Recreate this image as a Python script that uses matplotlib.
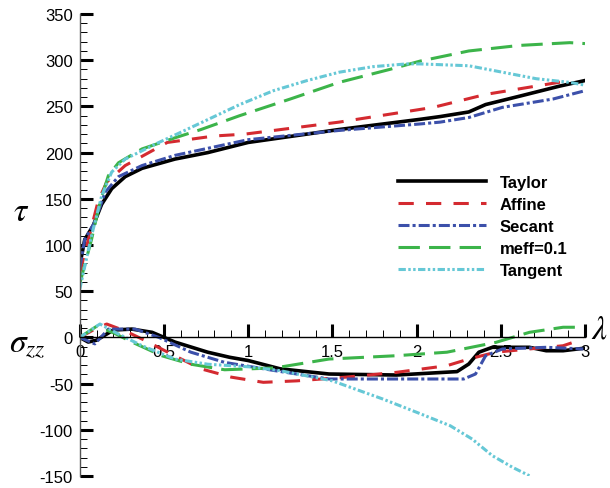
import matplotlib.pyplot as plt

plt.rcParams['font.family'] = ['Liberation Sans', 'DejaVu Sans']
plt.rcParams['axes.unicode_minus'] = False
plt.rcParams['mathtext.fontset'] = 'stix'

# --- tau curves (upper branch) ---
taylor_tau_x = [0, 0.03, 0.08, 0.13, 0.19, 0.27, 0.37, 0.565, 0.76, 1.0, 1.54, 2.02, 2.14, 2.31, 2.41, 2.61, 2.85, 3.0]
taylor_tau_y = [78, 106, 121, 144, 161, 174, 183, 193, 200, 211, 225, 236, 239, 244, 252, 261, 272, 278]

affine_tau_x = [0, 0.05, 0.11, 0.16, 0.27, 0.52, 0.8, 0.98, 1.54, 2.1, 2.41, 2.61, 2.91]
affine_tau_y = [70, 105, 148, 168, 186, 211, 218, 220, 233, 249, 263, 269, 278]

secant_tau_x = [0, 0.03, 0.09, 0.15, 0.23, 0.37, 0.565, 1.0, 1.54, 2.02, 2.14, 2.31, 2.51, 2.81, 3.0]
secant_tau_y = [75, 106, 125, 157, 174, 186, 197, 214, 224, 231, 233, 238, 249, 258, 267]

meff_tau_x = [0, 0.07, 0.12, 0.17, 0.23, 0.37, 0.565, 0.72, 0.95, 1.25, 1.54, 1.84, 2.02, 2.31, 2.61, 2.91, 3.0]
meff_tau_y = [58, 106, 146, 175, 189, 204, 216, 225, 240, 258, 276, 290, 299, 310, 316, 319, 318]

tangent_tau_x = [0, 0.07, 0.13, 0.19, 0.27, 0.47, 0.6, 0.95, 1.15, 1.35, 1.54, 1.74, 1.94, 2.02, 2.31, 2.51, 2.71, 2.91, 3.0]
tangent_tau_y = [52, 110, 153, 179, 193, 211, 222, 252, 267, 278, 287, 293, 296, 296, 294, 287, 280, 276, 273]

# --- sigma_zz curves (lower branch) ---
taylor_sig_x = [0, 0.05, 0.1, 0.2, 0.31, 0.43, 0.565, 0.76, 0.89, 1.0, 1.19, 1.48, 1.88, 2.24, 2.31, 2.37, 2.45, 2.67, 2.77, 2.87, 2.99]
taylor_sig_y = [0, -5, -3, 8, 9, 5.5, -5, -16, -21.5, -25, -34, -39.6, -40.7, -37, -28.8, -16, -10.7, -10.7, -14.4, -14.4, -11.8]

affine_sig_x = [0, 0.08, 0.16, 0.27, 0.39, 0.565, 0.72, 0.9, 1.09, 1.29, 1.58, 1.88, 2.18, 2.31, 2.47, 2.67, 2.87, 2.99]
affine_sig_y = [0, 8, 14.5, 7, -3.5, -20, -34, -43, -48.6, -47, -43, -37.8, -30.6, -23.4, -16, -12.5, -9, -1.7]

secant_sig_x = [0, 0.09, 0.17, 0.33, 0.47, 0.66, 0.86, 1.16, 1.48, 1.88, 2.28, 2.35, 2.41, 2.51, 2.77, 2.99]
secant_sig_y = [0, -7, 9, 9, 0, -16, -27, -36, -45, -45, -45, -39.6, -19.8, -12.5, -10.7, -12.5]

meff_sig_x = [0, 0.1, 0.2, 0.31, 0.49, 0.66, 0.86, 1.16, 1.48, 1.88, 2.18, 2.47, 2.67, 2.87, 2.99]
meff_sig_y = [0, 12, 5, -5, -20, -29, -35, -33, -23.4, -19.8, -16, -5.4, 5.5, 11, 11]

tangent_sig_x = [0, 0.12, 0.23, 0.37, 0.565, 0.76, 1.02, 1.19, 1.5, 1.8, 2.0, 2.2, 2.33, 2.45, 2.57, 2.67]
tangent_sig_y = [0, 14.5, 3.7, -9, -23.4, -29, -32, -36, -47, -66.7, -81, -95.6, -110, -128, -140.6, -149.7]

labels = ['Taylor', 'Affine', 'Secant', 'meff=0.1', 'Tangent']
colors = ['black', '#d42a30', '#3c50aa', '#3cb44a', '#66c8d6']
widths = [2.6, 2.2, 2.2, 2.2, 2.2]
dashes = [None, (5, 4), (3.6, 1, 1, 1), (7, 3), (2.4, 0.8, 0.8, 0.8, 0.8, 0.8)]

tau_data = [(taylor_tau_x, taylor_tau_y), (affine_tau_x, affine_tau_y), (secant_tau_x, secant_tau_y),
            (meff_tau_x, meff_tau_y), (tangent_tau_x, tangent_tau_y)]
sig_data = [(taylor_sig_x, taylor_sig_y), (affine_sig_x, affine_sig_y), (secant_sig_x, secant_sig_y),
            (meff_sig_x, meff_sig_y), (tangent_sig_x, tangent_sig_y)]

fig = plt.figure(figsize=(6.1, 4.89), dpi=100)
ax = fig.add_axes([0.1307, 0.0245, 0.8283, 0.9448])

for lab, c, w, d, (tx, ty), (sx, sy) in zip(labels, colors, widths, dashes, tau_data, sig_data):
    kw = dict(color=c, lw=w)
    if d is not None:
        kw['dashes'] = d
    ax.plot(tx, ty, label=lab, **kw)
    ax.plot(sx, sy, **kw)

ax.set_xlim(0, 3)
ax.set_ylim(-150, 350)
ax.set_xticks([0, 0.5, 1, 1.5, 2, 2.5, 3])
ax.set_xticklabels(['0', '0.5', '1', '1.5', '2', '2.5', '3'])
ax.set_xticks([i / 10 for i in range(31)], minor=True)
ax.set_yticks(list(range(-150, 351, 50)))
ax.set_yticks(list(range(-150, 351, 10)), minor=True)

ax.spines['top'].set_visible(False)
ax.spines['right'].set_visible(False)
ax.spines['bottom'].set_position(('data', 0))
ax.spines['bottom'].set_linewidth(1.0)
ax.spines['left'].set_color('#555555')
ax.spines['left'].set_linewidth(1.0)

ax.tick_params(which='major', direction='in', length=9.5, width=2.2, labelsize=12, pad=5)
ax.tick_params(which='minor', direction='in', length=5, width=0.7)
ax.tick_params(axis='y', which='both', color='black')

ax.legend(loc='upper left', bbox_to_anchor=(0.652, 0.64), bbox_transform=fig.transFigure,
          frameon=False, prop={'weight': 'bold', 'size': 12}, handlelength=5.3,
          handletextpad=0.8, labelspacing=0.42, borderpad=0, borderaxespad=0)

fig.text(0.035, 0.565, r'$\tau$', fontsize=24, ha='center', va='center')
fig.text(0.045, 0.295, r'$\sigma_{zz}$', fontsize=24, ha='center', va='center')
fig.text(0.997, 0.325, r'$\lambda$', fontsize=24, ha='right', va='center')

fig.savefig('out.png', dpi=100)
